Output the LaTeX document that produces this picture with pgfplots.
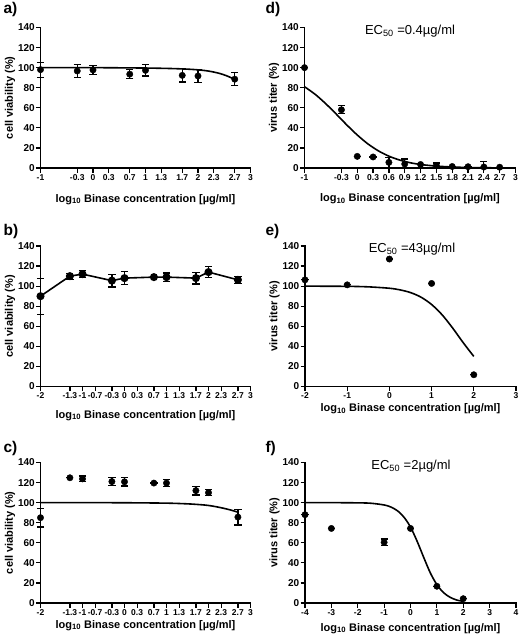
\documentclass[border=0pt]{standalone}
\usepackage{pgfplots}
\pgfplotsset{compat=1.18}
\usepackage{fontspec}
\setmainfont{Liberation Sans}
\newcommand{\yf}{\fontsize{10}{11}\selectfont\bfseries}
\newcommand{\xf}{\fontsize{8.5}{9}\selectfont\bfseries}
\newcommand{\lf}{\fontsize{11}{12}\selectfont\bfseries}
\begin{document}
\begin{tikzpicture}[x=1pt,y=1pt]
\useasboundingbox (0,0) rectangle (520,-643);
\pgfplotsset{
  prism/.style={
    scale only axis,
    width=210pt, height=140.5pt,
    axis x line*=bottom, axis y line*=left,
    axis line style={line width=1.5pt, line cap=rect},
    tick style={line width=1.2pt, black},
    major tick length=4.5pt,
    tick align=outside,
    ymin=0, ymax=140, ytick={0,20,...,140},
    yticklabels={\yf 0,\yf 20,\yf 40,\yf 60,\yf 80,\yf 100,\yf 120,\yf 140},
    clip=false,
    anchor=south west,
    yticklabel style={inner sep=1pt},
    xticklabel style={inner sep=1.5pt},
    every axis y label/.style={at={(axis description cs:0,0.5)}, xshift=-30.5pt, rotate=90, anchor=center, font=\lf},
    every axis x label/.style={at={(axis description cs:0.5,0)}, anchor=base, font=\lf},
    xlabel={\lf log\textsubscript{10} Binase concentration [µg/ml]},
  },
  pts/.style={only marks, mark=*, mark size=3.2pt, black,
    error bars/y dir=both, error bars/y explicit,
    error bars/error bar style={line width=1.2pt, black},
    error bars/error mark options={rotate=90, mark size=3.6pt, line width=1.2pt, black}},
  fit/.style={no marks, smooth, line width=1.6pt, black},
}
% panel labels
\node[font=\fontsize{15.5}{16}\selectfont\bfseries, anchor=base west] at (0,-13) {a)};
\node[font=\fontsize{15.5}{16}\selectfont\bfseries, anchor=base west] at (262,-13) {d)};
\node[font=\fontsize{15.5}{16}\selectfont\bfseries, anchor=base west] at (0,-235) {b)};
\node[font=\fontsize{15.5}{16}\selectfont\bfseries, anchor=base west] at (262,-235) {e)};
\node[font=\fontsize{15.5}{16}\selectfont\bfseries, anchor=base west] at (0,-452) {c)};
\node[font=\fontsize{15.5}{16}\selectfont\bfseries, anchor=base west] at (262,-452) {f)};
% EC50 texts
\node[font=\fontsize{13}{14}\selectfont, anchor=base] at (410,-34) {EC\textsubscript{50} =0.4µg/ml};
\node[font=\fontsize{13}{14}\selectfont, anchor=base] at (412,-252.5) {EC\textsubscript{50} =43µg/ml};
\node[font=\fontsize{13}{14}\selectfont, anchor=base] at (411,-469) {EC\textsubscript{50} =2µg/ml};

% ---------- a) ----------
\begin{axis}[prism, at={(40.5pt,-168pt)}, xmin=-1, xmax=3,
  xtick={-1,-0.3,0,0.3,0.7,1,1.3,1.7,2,2.3,2.7,3},
  xticklabels={\xf -1,\xf -0.3,\xf 0,\xf 0.3,\xf 0.7,\xf 1,\xf 1.3,\xf 1.7,\xf 2,\xf 2.3,\xf 2.7,\xf 3},
  ylabel={\lf cell viability (\%)}, xlabel style={yshift=-34pt}]
\addplot[fit] coordinates {(-1,100) (0,100) (1,99.6) (1.5,99.1) (1.8,98.5) (2,97.8) (2.2,96.6) (2.4,94.4) (2.55,91.8) (2.7,88.3)};
\addplot[pts] coordinates {
 (-1,98) +- (0,7.5)
 (-0.3,96.7) +- (0,6.2)
 (0,97.7) +- (0,4.5)
 (0.7,93.5) +- (0,4.7)
 (1,97.3) +- (0,5.7)
 (1.7,92.3) +- (0,6.7)
 (2,91.7) +- (0,6.2)
 (2.7,88.5) +- (0,6.4)
};
\end{axis}

% ---------- d) ----------
\begin{axis}[prism, at={(304.5pt,-168pt)}, width=211pt, xmin=-1, xmax=3,
  xtick={-1,-0.3,0,0.3,0.6,0.9,1.2,1.5,1.8,2.1,2.4,2.7,3},
  xticklabels={\xf -1,\xf -0.3,\xf 0,\xf 0.3,\xf 0.6,\xf 0.9,\xf 1.2,\xf 1.5,\xf 1.8,\xf 2.1,\xf 2.4,\xf 2.7,\xf 3},
  ylabel={\lf virus titer (\%)}, xlabel style={yshift=-33.7pt}]
\addplot[fit] coordinates {(-1,81.0) (-0.8,73.5) (-0.6,64.2) (-0.4,53.8) (-0.2,43.0) (0,32.9) (0.2,24.1) (0.4,17.1) (0.6,11.8) (0.8,8.0) (1.0,5.3) (1.2,3.5) (1.5,1.9) (1.8,1.0) (2.1,0.5) (2.4,0.27) (2.7,0.14)};
\addplot[pts] coordinates {
 (-1,100) +- (0,0)
 (-0.3,58) +- (0,4)
 (0,11.6) +- (0,0)
 (0.3,11) +- (0,0)
 (0.6,5.6) += (0,4.5) -= (0,5.6)
 (0.9,4) += (0,5) -= (0,4)
 (1.2,3.5) +- (0,0)
 (1.5,2.5) +- (0,2.5)
 (1.8,1.5) +- (0,0)
 (2.1,1.3) +- (0,0)
 (2.4,1) += (0,5.6) -= (0,1)
 (2.7,0.8) +- (0,0)
};
\end{axis}

% ---------- b) ----------
\begin{axis}[prism, at={(40.5pt,-386.5pt)}, xmin=-2, xmax=3,
  xtick={-2,-1.3,-1,-0.7,-0.3,0,0.3,0.7,1,1.3,1.7,2,2.3,2.7,3},
  xticklabels={\xf -2,\xf -1.3,\xf -1,\xf -0.7,\xf -0.3,\xf 0,\xf 0.3,\xf 0.7,\xf 1,\xf 1.3,\xf 1.7,\xf 2,\xf 2.3,\xf 2.7,\xf 3},
  ylabel={\lf cell viability (\%)}, xlabel style={yshift=-31.8pt}]
\addplot[pts, sharp plot, line width=1.6pt] coordinates {
 (-2,90) +- (0,18)
 (-1.3,110) +- (0,3)
 (-1,112) +- (0,3.7)
 (-0.3,105.5) +- (0,6.3)
 (0,108) +- (0,6.7)
 (0.7,109) +- (0,0)
 (1,109) +- (0,4.2)
 (1.7,108) +- (0,5.8)
 (2,114) +- (0,5.5)
 (2.7,106.3) +- (0,3.5)
};
\end{axis}

% ---------- e) ----------
\begin{axis}[prism, at={(305pt,-386.5pt)}, width=211pt, xmin=-2, xmax=3,
  xtick={-2,-1,0,1,2,3},
  xticklabels={\xf -2,\xf -1,\xf 0,\xf 1,\xf 2,\xf 3},
  ylabel={\lf virus titer (\%)}, xlabel style={yshift=-25.2pt}]
\addplot[fit] coordinates {(-2,100) (-1,99.8) (-0.5,99.3) (0,97.9) (0.25,96.3) (0.5,93.6) (0.75,89.0) (1,81.7) (1.25,71.4) (1.5,58.2) (1.75,43.6) (2,30)};
\addplot[pts] coordinates {
 (-2,106.3) +- (0,0)
 (-1,101.3) +- (0,0)
 (0,127) +- (0,0)
 (1,102.7) +- (0,0)
 (2,11.7) +- (0,0)
};
\end{axis}

% ---------- c) ----------
\begin{axis}[prism, at={(40.5pt,-603pt)}, xmin=-2, xmax=3,
  xtick={-2,-1.3,-1,-0.7,-0.3,0,0.3,0.7,1,1.3,1.7,2,2.3,2.7,3},
  xticklabels={\xf -2,\xf -1.3,\xf -1,\xf -0.7,\xf -0.3,\xf 0,\xf 0.3,\xf 0.7,\xf 1,\xf 1.3,\xf 1.7,\xf 2,\xf 2.3,\xf 2.7,\xf 3},
  ylabel={\lf cell viability (\%)}, xlabel style={yshift=-25.3pt}]
\addplot[fit] coordinates {(-2,100) (-1,100) (0,99.9) (1,99.5) (1.5,98.8) (1.8,98) (2,97.2) (2.2,95.8) (2.4,94) (2.55,92.4) (2.7,90.5)};
\addplot[pts] coordinates {
 (-2,85) +- (0,9.3)
 (-1.3,124.8) +- (0,0)
 (-1,123.7) +- (0,2.9)
 (-0.3,121) +- (0,3.7)
 (0,120.8) +- (0,4.2)
 (0.7,119.5) +- (0,0)
 (1,119.5) +- (0,3.2)
 (1.7,112) +- (0,4.3)
 (2,110) +- (0,3)
 (2.7,85.6) +- (0,7.9)
};
\end{axis}

% ---------- f) ----------
\begin{axis}[prism, at={(305pt,-603pt)}, width=211pt, xmin=-4, xmax=4,
  xtick={-4,-3,-2,-1,0,1,2,3,4},
  xticklabels={\xf -4,\xf -3,\xf -2,\xf -1,\xf 0,\xf 1,\xf 2,\xf 3,\xf 4},
  ylabel={\lf virus titer (\%)}, xlabel style={yshift=-28pt}]
\addplot[fit] coordinates {(-4,100) (-3,100) (-2,99.8) (-1.5,99.4) (-1,97.7) (-0.75,95.7) (-0.5,92) (-0.25,85.6) (0,75.7) (0.25,61.6) (0.5,45.5) (0.75,30.1) (1,18.3) (1.25,10.4) (1.5,5.7) (1.75,3.0) (2,1.6)};
\addplot[pts] coordinates {
 (-4,88) +- (0,0)
 (-3,74.3) +- (0,0)
 (-1,60.5) +- (0,3.3)
 (0,74.3) +- (0,0)
 (1,16.7) +- (0,0)
 (2,4.3) +- (0,0)
};
\end{axis}
\end{tikzpicture}
\end{document}
